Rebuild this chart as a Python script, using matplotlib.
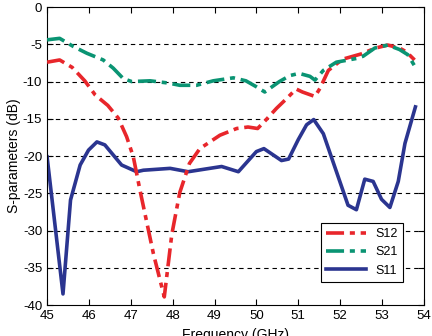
import matplotlib
matplotlib.use('Agg')
import matplotlib.pyplot as plt

# S12 (red dash-dot)
f_s12 = [45.0, 45.3, 45.6, 45.9, 46.15, 46.45, 46.7, 46.9, 47.06, 47.22, 47.54, 47.8,
         47.98, 48.17, 48.4, 48.65, 49.13, 49.53, 49.8, 50.03, 50.22, 50.48, 50.72,
         50.95, 51.1, 51.4, 51.52, 51.72, 52.06, 52.5, 52.85, 53.14, 53.42, 53.58, 53.78]
s12 = [-7.4, -7.1, -8.1, -9.9, -11.8, -13.2, -14.9, -17.4, -20.1, -24.6, -33.1, -38.9,
       -30.5, -24.9, -21.0, -19.0, -17.2, -16.3, -16.1, -16.3, -15.2, -13.6, -12.3,
       -11.0, -11.4, -12.0, -10.9, -8.5, -7.0, -6.3, -5.5, -5.1, -5.5, -6.0, -7.1]

# S21 (green dash-dot)
f_s21 = [45.0, 45.3, 45.63, 45.95, 46.34, 46.58, 46.82, 47.02, 47.46, 47.9, 48.17,
         48.57, 48.97, 49.45, 49.75, 50.0, 50.2, 50.55, 50.8, 51.02, 51.28, 51.4, 51.6,
         51.91, 52.39, 52.55, 52.83, 53.14, 53.42, 53.62, 53.78]
s21 = [-4.4, -4.2, -5.3, -6.2, -7.1, -8.2, -9.6, -10.0, -9.9, -10.2, -10.5,
       -10.5, -9.9, -9.5, -9.9, -10.7, -11.4, -10.0, -9.2, -8.9, -9.3, -9.8, -8.5,
       -7.4, -6.9, -6.6, -5.5, -5.1, -5.7, -6.4, -7.9]

# S11 (blue solid)
f_s11 = [45.0, 45.38, 45.56, 45.79, 45.99, 46.19, 46.38, 46.78, 47.14, 47.3, 47.94,
         48.37, 49.17, 49.57, 50.0, 50.18, 50.6, 50.77, 51.0, 51.2, 51.37, 51.6,
         52.19, 52.39, 52.59, 52.79, 52.99, 53.19, 53.39, 53.55, 53.8]
s11 = [-20.1, -38.5, -25.9, -21.2, -19.2, -18.1, -18.5, -21.2, -22.1, -21.9, -21.65,
       -22.1, -21.4, -22.1, -19.4, -19.0, -20.6, -20.4, -17.8, -15.8, -15.1, -17.0,
       -26.6, -27.2, -23.1, -23.4, -25.8, -26.9, -23.4, -18.3, -13.4]

x_ticks = [45, 46, 47, 48, 49, 50, 51, 52, 53, 54]
y_ticks = [0, -5, -10, -15, -20, -25, -30, -35, -40]

plt.rcParams['font.family'] = ['Liberation Sans', 'DejaVu Sans']
plt.rcParams['axes.unicode_minus'] = False

fig = plt.figure(figsize=(4.32, 3.36), dpi=100)
ax = fig.add_axes([0.109, 0.092, 0.872, 0.887])

# dashed horizontal grid
for y in y_ticks[1:-1]:
    ax.axhline(y, color='black', lw=0.8, ls=(0, (4, 3.5)), zorder=1)

ax.plot(f_s12, s12, color='#e8262b', lw=2.6, ls=(0, (5, 1.6, 1.4, 1.6)), label='S12', zorder=3)
ax.plot(f_s21, s21, color='#0a9473', lw=2.6, ls=(0, (5, 1.6, 1.4, 1.6)), label='S21', zorder=3)
ax.plot(f_s11, s11, color='#2b3590', lw=2.6, label='S11', zorder=2)

ax.set_xlim(45, 54)
ax.set_ylim(-40, 0)
ax.set_xticks(x_ticks)
ax.set_yticks(y_ticks)
ax.tick_params(direction='in', top=True, right=True, labelsize=9.5, length=4, width=0.8)
for s in ax.spines.values():
    s.set_linewidth(0.8)
ax.set_xlabel('Frequency (GHz)', fontsize=10, labelpad=4)
ax.set_ylabel('S-parameters (dB)', fontsize=10, labelpad=1)

leg = ax.legend(loc='lower right', bbox_to_anchor=(0.962, 0.058), fontsize=9,
                fancybox=False, framealpha=1, edgecolor='black', handlelength=3.2,
                borderpad=0.4, labelspacing=0.5)
leg.get_frame().set_linewidth(0.8)

fig.savefig('out.png', dpi=100)
